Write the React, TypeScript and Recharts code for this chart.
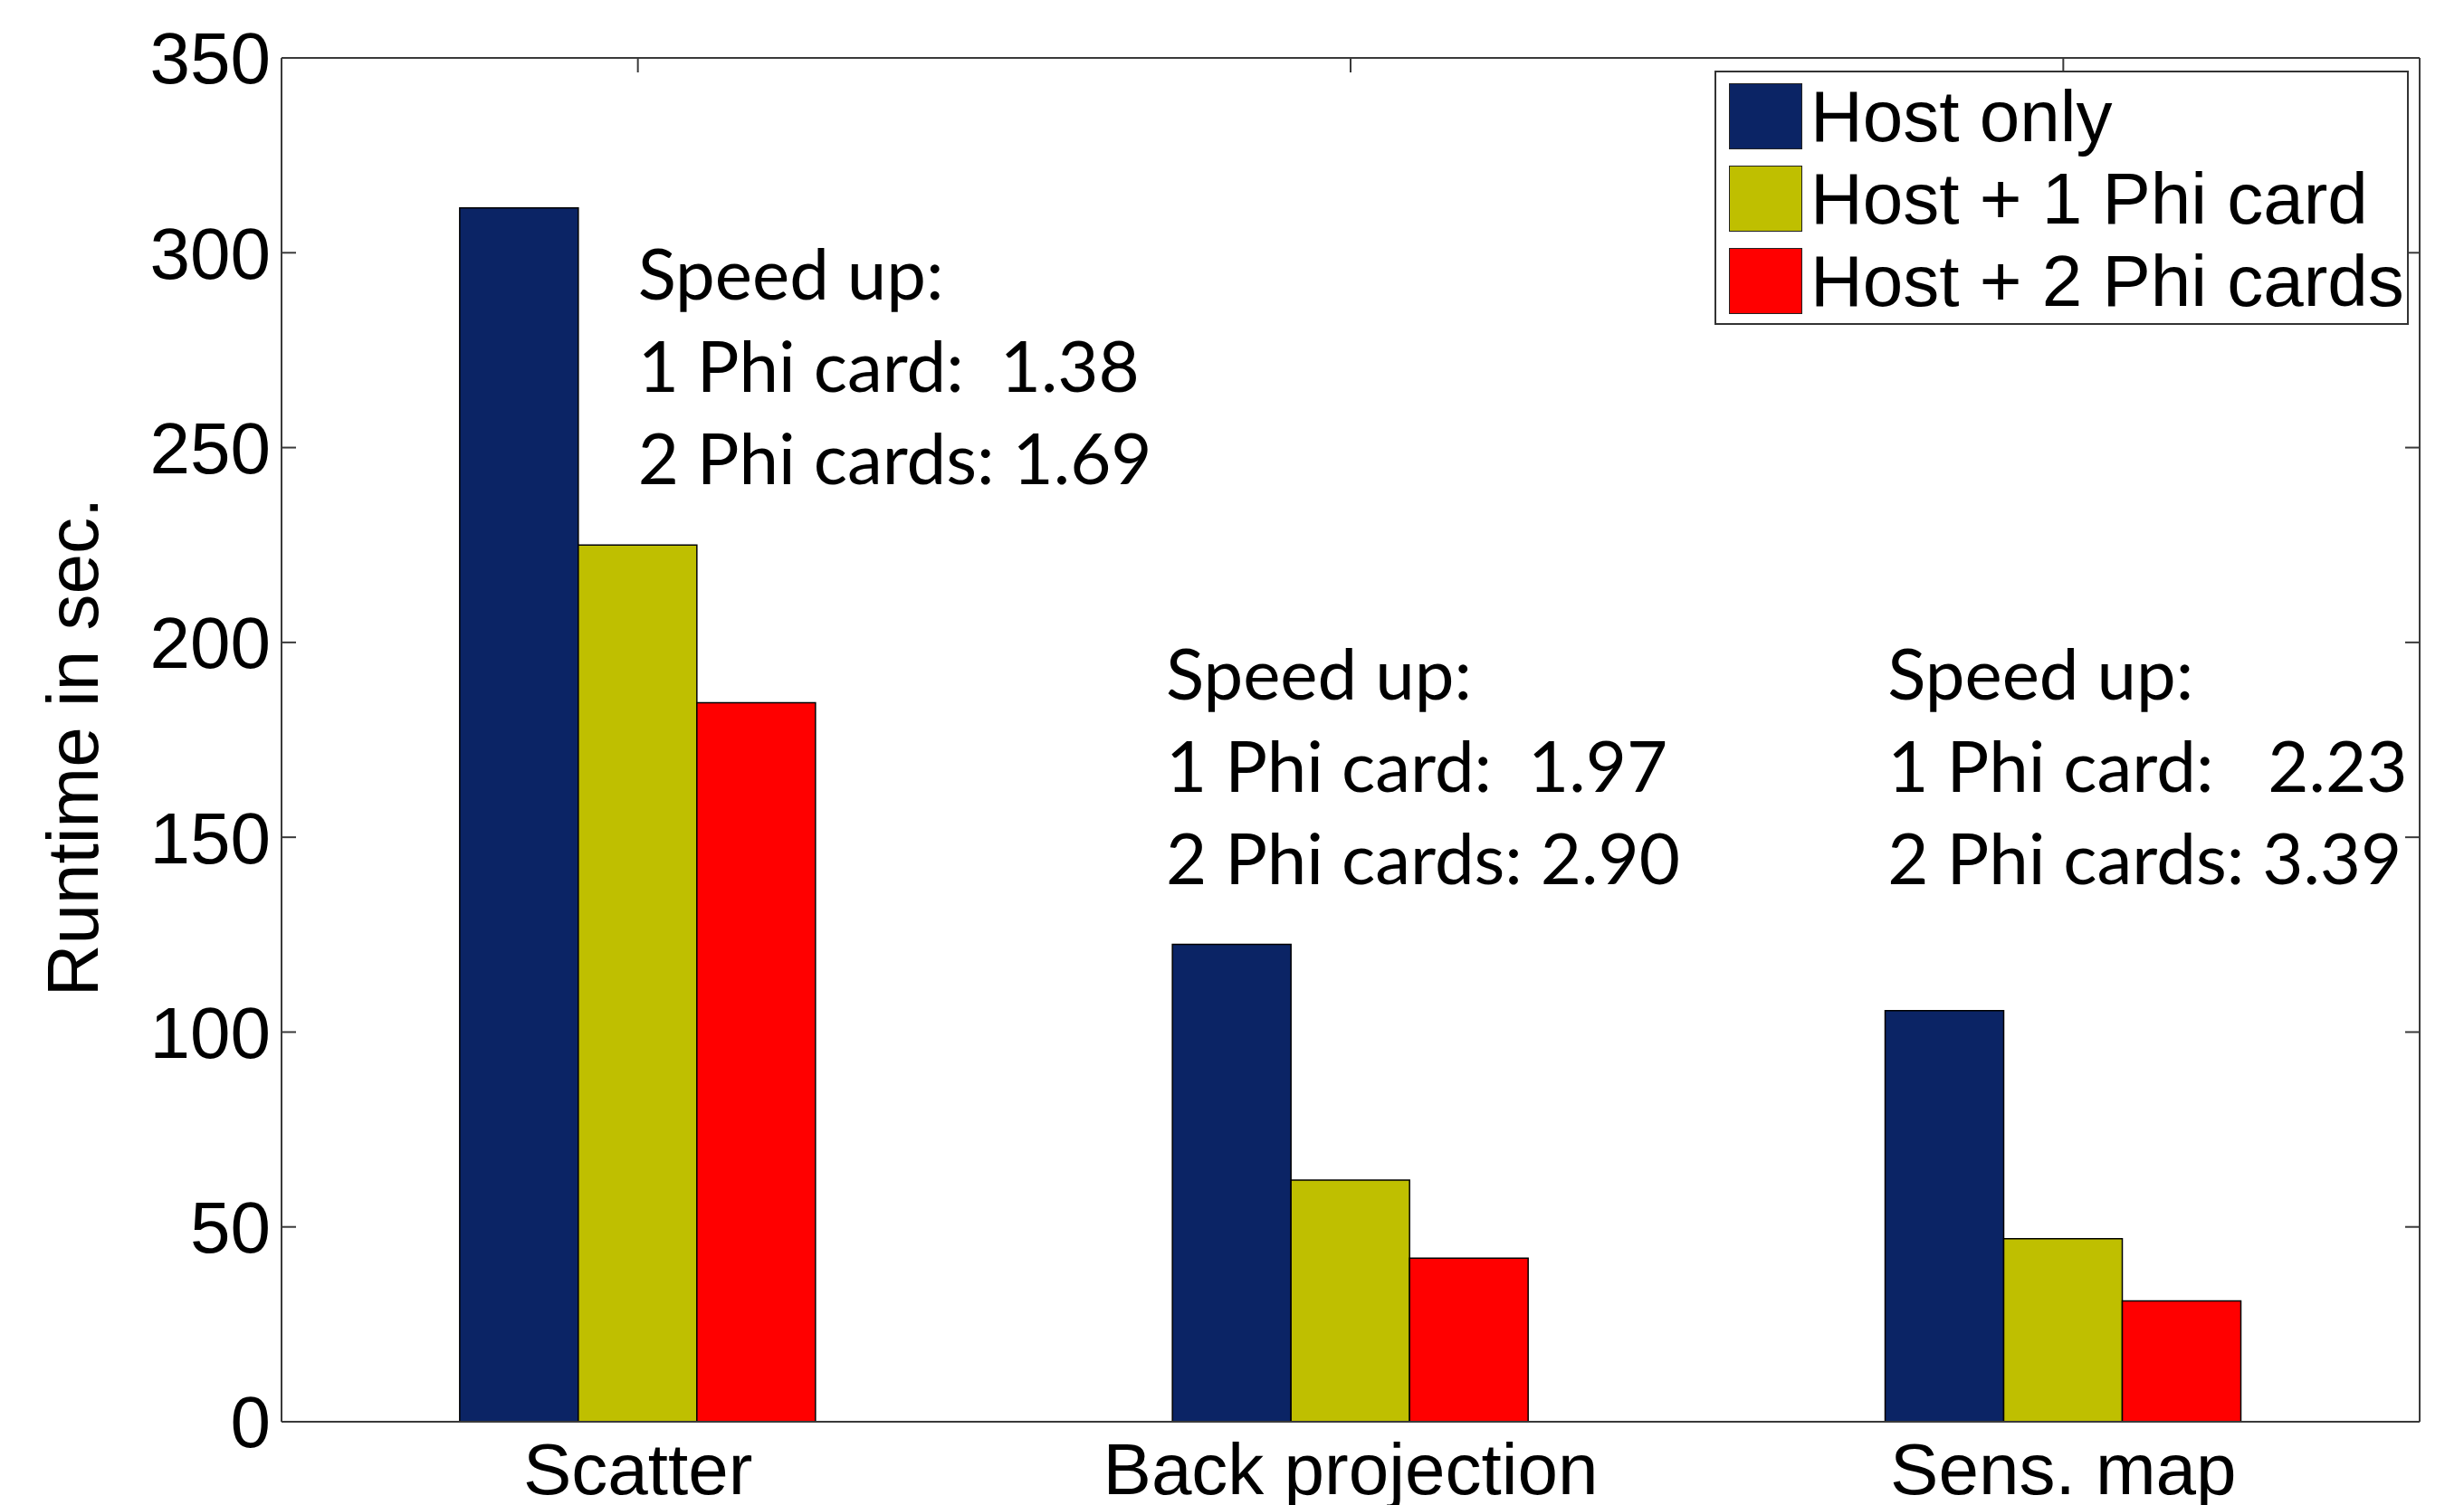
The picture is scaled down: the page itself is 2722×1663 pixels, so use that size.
import React from 'react';
import { ComposedChart, Bar, Line, XAxis, YAxis, Legend, ReferenceDot, Label } from 'recharts';

const categories = ['Scatter', 'Back projection', 'Sens. map'];
const hostOnly = [311.5, 122.5, 105.5];
const onePhi = [225, 62, 47];
const twoPhi = [184.5, 42, 31];
const yTicks = [0, 50, 100, 150, 200, 250, 300, 350];
const seriesKeys = ['host', 'one', 'two'];
const seriesNames = ['Host only', 'Host + 1 Phi card', 'Host + 2 Phi cards'];
const seriesColors = ['#0B2465', '#BFBF00', '#FF0000'];
const speedupOne = ['1.38', '1.97', '2.23'];
const speedupTwo = ['1.69', '2.90', '3.39'];
const speedupOneSpacing = ['  ', '  ', '   '];
const annotationY = [294.5, 191.8, 191.8];
const annotationDx = [0, -204, -194];

const data = categories.map((c, i) => ({
  category: c,
  host: hostOnly[i],
  one: onePhi[i],
  two: twoPhi[i],
}));

const AXIS_FONT = '"Liberation Sans", Arial, Helvetica, sans-serif';
const NOTE_FONT = 'Lato, "Open Sans", sans-serif';
const AXIS_COLOR = '#3a3a3a';
const TICK_LEN = 16;

const LeftTick = (props: any) => {
  const { x, y, payload } = props;
  return (
    <g>
      <line x1={x} x2={x + TICK_LEN} y1={y} y2={y} stroke={AXIS_COLOR} strokeWidth={2} />
      <text x={x - 12} y={y} dy="0.355em" textAnchor="end" fontFamily={AXIS_FONT} fontSize={80} fill="#000">
        {payload.value}
      </text>
    </g>
  );
};

const RightTick = (props: any) => {
  const { x, y } = props;
  return <line x1={x} x2={x - TICK_LEN} y1={y} y2={y} stroke={AXIS_COLOR} strokeWidth={2} />;
};

const TopTick = (props: any) => {
  const { x, y } = props;
  return <line x1={x} x2={x} y1={y} y2={y + TICK_LEN} stroke={AXIS_COLOR} strokeWidth={2} />;
};

const makeNote = (i: number) => (props: any) => {
  const vb = props.viewBox || {};
  const cx = (vb.x ?? 0) + (vb.width ?? 0) / 2;
  const cy = (vb.y ?? 0) + (vb.height ?? 0) / 2;
  const x = cx + annotationDx[i];
  const base = cy + 28;
  const lines = ['Speed up:', `1 Phi card:${speedupOneSpacing[i]}${speedupOne[i]}`, `2 Phi cards: ${speedupTwo[i]}`];
  return (
    <g>
      {lines.map((l, k) => (
        <text
          key={k}
          x={x}
          y={base + k * 102}
          fontFamily={NOTE_FONT}
          fontSize={78}
          fill="#000"
          textAnchor="start"
          style={{ whiteSpace: 'pre' }}
        >
          {l}
        </text>
      ))}
    </g>
  );
};

const renderYLabel = (props: any) => {
  const vb = props.viewBox || { x: 0, y: 56, width: 303, height: 1507 };
  const x = vb.x + 100;
  const y = vb.y + vb.height / 2 + 8;
  return (
    <text
      x={x}
      y={y}
      transform={`rotate(-90, ${x}, ${y})`}
      textAnchor="middle"
      fontFamily={AXIS_FONT}
      fontSize={80}
      fill="#000"
    >
      Runtime in sec.
    </text>
  );
};

const renderLegend = () => (
  <div
    style={{
      width: 767,
      height: 281,
      boxSizing: 'border-box',
      border: '2px solid #333',
      background: '#fff',
      position: 'relative',
      fontFamily: AXIS_FONT,
      fontSize: 80,
      color: '#000',
    }}
  >
    {seriesNames.map((n, i) => (
      <div key={n} style={{ position: 'absolute', left: 14, top: 12 + i * 91, height: 73, display: 'flex', alignItems: 'center', whiteSpace: 'nowrap' }}>
        <div style={{ width: 81, height: 73, boxSizing: 'border-box', background: seriesColors[i], border: '1.5px solid #222' }} />
        <div style={{ marginLeft: 9, lineHeight: '73px' }}>{n}</div>
      </div>
    ))}
  </div>
);

export default function App() {
  return (
    <div style={{ width: 2706, height: 1655, background: '#fff' }}>
      <ComposedChart
        width={2706}
        height={1655}
        data={data}
        margin={{ top: 55, right: 40, bottom: 0, left: 0 }}
        barCategoryGap="25%"
        barGap={0}
      >
        <XAxis
          xAxisId="bottom"
          dataKey="category"
          orientation="bottom"
          height={92}
          axisLine={{ stroke: AXIS_COLOR, strokeWidth: 2 }}
          tickLine={false}
          tickSize={0}
          tickMargin={23}
          interval={0}
          tick={{ fill: '#000', fontSize: 80, fontFamily: AXIS_FONT }}
        />
        <XAxis
          xAxisId="top"
          dataKey="category"
          orientation="top"
          height={1}
          axisLine={{ stroke: AXIS_COLOR, strokeWidth: 2 }}
          tickLine={false}
          tickSize={0}
          tickMargin={0}
          interval={0}
          tick={<TopTick />}
        />
        <YAxis
          yAxisId="left"
          type="number"
          domain={[0, 350]}
          ticks={yTicks}
          interval={0}
          width={303}
          axisLine={{ stroke: AXIS_COLOR, strokeWidth: 2 }}
          tickLine={false}
          tickSize={0}
          tickMargin={0}
          tick={<LeftTick />}
          label={<Label content={renderYLabel} />}
        />
        <YAxis
          yAxisId="right"
          orientation="right"
          type="number"
          domain={[0, 350]}
          ticks={yTicks}
          interval={0}
          width={1}
          axisLine={{ stroke: AXIS_COLOR, strokeWidth: 2 }}
          tickLine={false}
          tickSize={0}
          tickMargin={0}
          tick={<RightTick />}
        />
        {seriesKeys.map((k, i) => (
          <Bar
            key={k}
            xAxisId="bottom"
            yAxisId="left"
            dataKey={k}
            name={seriesNames[i]}
            fill={seriesColors[i]}
            stroke="#000"
            strokeWidth={1.5}
            isAnimationActive={false}
          />
        ))}
        <Line
          xAxisId="top"
          yAxisId="right"
          dataKey="host"
          stroke="none"
          dot={false}
          activeDot={false}
          legendType="none"
          isAnimationActive={false}
        />
        {categories.map((c, i) => (
          <ReferenceDot
            key={c}
            xAxisId="bottom"
            yAxisId="left"
            x={c}
            y={annotationY[i]}
            r={0}
            fill="none"
            stroke="none"
            label={<Label content={makeNote(i)} />}
          />
        ))}
        <Legend
          layout="horizontal"
          verticalAlign="middle"
          align="center"
          width={767}
          height={281}
          wrapperStyle={{ left: 1886, top: 70, width: 767, height: 281 }}
          content={renderLegend}
        />
      </ComposedChart>
    </div>
  );
}
